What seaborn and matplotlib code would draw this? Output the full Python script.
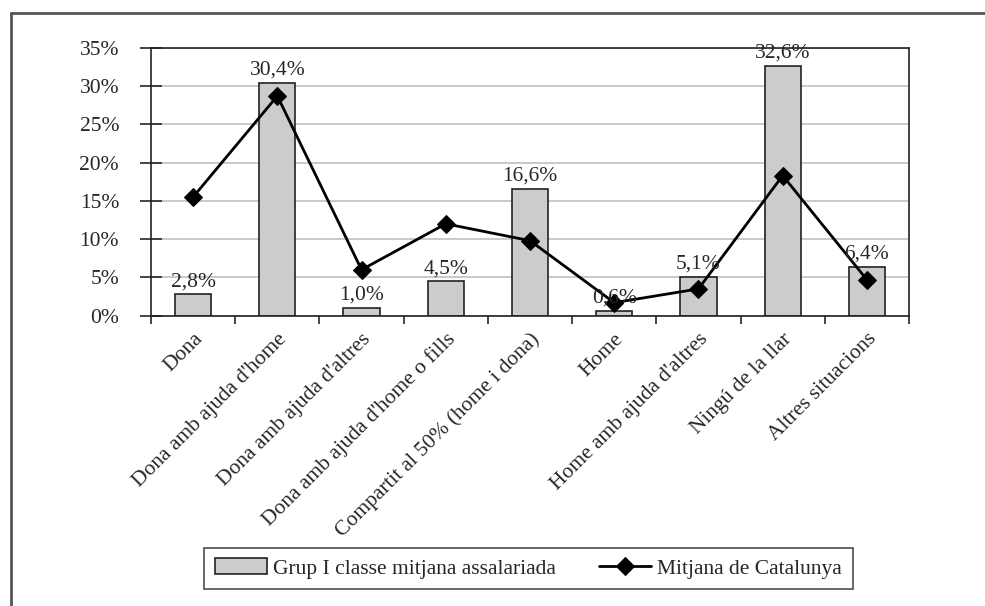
import numpy as np
import pandas as pd
import seaborn as sns
import matplotlib.pyplot as plt
from matplotlib.lines import Line2D

sns.set_theme(style="white")
plt.rcParams['font.family'] = ['Liberation Serif', 'DejaVu Serif']

categories = ["Dona", "Dona amb ajuda d'home", "Dona amb ajuda d'altres",
              "Dona amb ajuda d'home o fills", "Compartit al 50% (home i dona)",
              "Home", "Home amb ajuda d'altres", "Ningú de la llar", "Altres situacions"]
grup_i = [2.8, 30.4, 1.0, 4.5, 16.6, 0.6, 5.1, 32.6, 6.4]
catalunya = [15.5, 28.7, 6.0, 12.0, 9.8, 1.7, 3.5, 18.3, 4.7]
yticks = [0, 5, 10, 15, 20, 25, 30, 35]

df = pd.DataFrame({"cat": categories, "grup": grup_i, "cat_mean": catalunya})
fs = 15.5

fig = plt.figure(figsize=(9.85, 6.06), dpi=100)
ax = fig.add_axes([151/985, 1 - 315.7/606, (909-151)/985, (315.7-47.7)/606])

sns.barplot(data=df, x="cat", y="grup", ax=ax, color="#cccccc", width=0.43,
            edgecolor="#222222", linewidth=1.2, saturation=1,
            label="Grup I classe mitjana assalariada")
sns.lineplot(x=np.arange(len(categories)), y=df["cat_mean"], ax=ax, color="black",
             linewidth=2, marker="D", markersize=9, markeredgecolor="black",
             label="Mitjana de Catalunya")

# etiquetes de valor
for i, v in enumerate(grup_i):
    ax.text(i, v + 0.4, f"{v:.1f}%".replace(".", ","), ha="center", va="bottom",
            fontsize=fs)

ax.set_xlim(-0.5, len(categories) - 0.5)
ax.set_ylim(0, 35)
ax.set_yticks(yticks)
ax.set_yticklabels([f"{t}%" for t in yticks], fontsize=fs)
ax.yaxis.grid(True, color="#c0c0c0", linewidth=1.2)
ax.set_axisbelow(True)
ax.tick_params(axis="y", direction="inout", length=16, width=1.2, pad=15, left=True)

ax.set_xticks(np.arange(len(categories)))
ax.set_xticklabels(categories, rotation=45, ha="right", rotation_mode="anchor", fontsize=fs)
ax.set_xticks(np.arange(len(categories) + 1) - 0.5, minor=True)
ax.tick_params(axis="x", which="major", length=0, pad=10)
ax.tick_params(axis="x", which="minor", direction="out", length=6, width=1.2, bottom=True)
ax.set_xlabel("")
ax.set_ylabel("")

for s in ax.spines.values():
    s.set_visible(True)
    s.set_color("#222222")
    s.set_linewidth(1.2)

handles, labels = ax.get_legend_handles_labels()
order = [labels.index("Grup I classe mitjana assalariada"), labels.index("Mitjana de Catalunya")]
leg = ax.legend([handles[k] for k in order], [labels[k] for k in order],
                loc="center", bbox_to_anchor=(528.5/985, 1 - 568.5/606),
                bbox_transform=fig.transFigure, ncol=2, fontsize=fs, frameon=True,
                fancybox=False, edgecolor="#222222", handlelength=2.4,
                handletextpad=0.3, columnspacing=2.0, borderpad=0.5)
leg.get_frame().set_linewidth(1.2)

# marc exterior
fig.add_artist(Line2D([11/985, 11/985], [0, 1 - 13/606], color="#555555", linewidth=2))
fig.add_artist(Line2D([11/985, 1], [1 - 13/606, 1 - 13/606], color="#555555", linewidth=2))

fig.savefig("out.png", dpi=100)
